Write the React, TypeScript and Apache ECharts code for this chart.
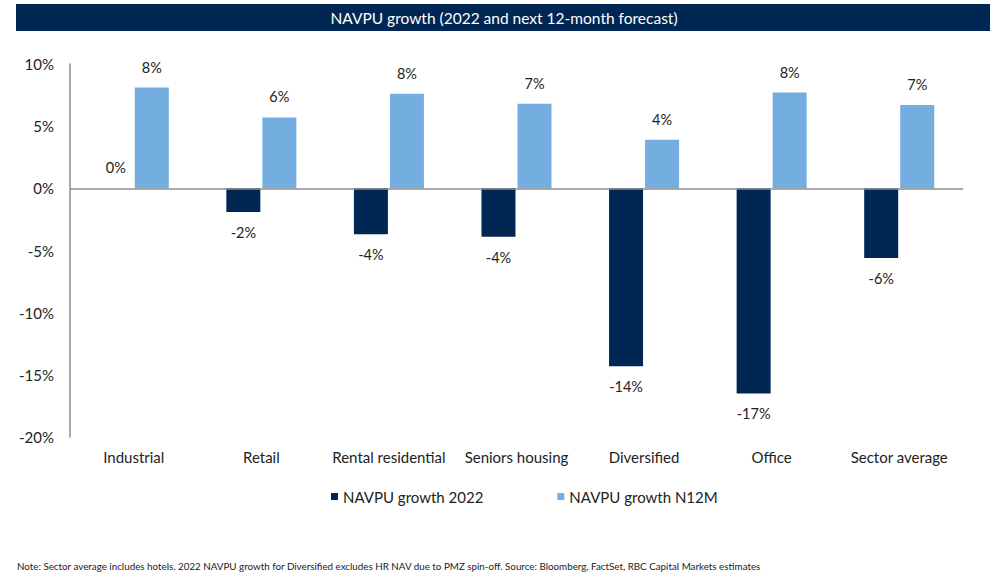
import React, { useEffect, useRef } from "react";
import * as echarts from "echarts";

const categories = [
  "Industrial",
  "Retail",
  "Rental residential",
  "Seniors housing",
  "Diversified",
  "Office",
  "Sector average",
];
const growth2022 = [0, -1.9, -3.7, -3.9, -14.3, -16.5, -5.6];
const growthN12M = [8.1, 5.7, 7.6, 6.8, 3.9, 7.7, 6.7];
const yTicks = { min: -20, max: 10, interval: 5 };
const seriesNames = ["NAVPU growth 2022", "NAVPU growth N12M"];
const titleText = "NAVPU growth (2022 and next 12-month forecast)";
const noteText =
  "Note: Sector average includes hotels. 2022 NAVPU growth for Diversified excludes HR NAV due to PMZ spin-off. Source: Bloomberg, FactSet, RBC Capital Markets estimates";

const DARK = "#002654";
const LIGHT = "#74AEE0";
const FONT = "Lato, 'Noto Sans', sans-serif";

function toItems(values: number[]) {
  return values.map((v) => ({
    value: v,
    label: { position: v < 0 ? "bottom" : "top" },
  }));
}

export default function App() {
  const ref = useRef<HTMLDivElement>(null);
  useEffect(() => {
    if (!ref.current) return;
    const chart = echarts.init(ref.current, null, { renderer: "svg" });
    const labelCfg = {
      show: true,
      distance: 13,
      fontSize: 14.5,
      color: "#222",
      fontFamily: FONT,
      formatter: (p: any) => `${Math.round(Math.abs(p.value)) * Math.sign(p.value) || 0}%`,
    };
    chart.setOption({
      animation: false,
      backgroundColor: "#ffffff",
      textStyle: { fontFamily: FONT },
      graphic: [
        {
          type: "rect",
          shape: { x: 16, y: 4, width: 974, height: 27 },
          style: { fill: DARK },
          silent: true,
        },
        {
          type: "text",
          x: 504,
          y: 17.5,
          style: {
            text: titleText,
            fill: "#ffffff",
            font: `15.5px ${FONT}`,
            textAlign: "center",
            textVerticalAlign: "middle",
          },
        },
        {
          type: "text",
          x: 17,
          y: 566,
          style: {
            text: noteText,
            fill: "#222",
            font: `9.8px ${FONT}`,
            textAlign: "left",
            textVerticalAlign: "middle",
          },
        },
      ],
      legend: {
        data: seriesNames,
        left: 326,
        top: 484,
        icon: "rect",
        itemWidth: 7,
        itemHeight: 7,
        itemGap: 74,
        textStyle: { fontSize: 15, color: "#222", fontFamily: FONT },
      },
      grid: { left: 70, right: 43, top: 64, bottom: 138, containLabel: false },
      xAxis: {
        type: "category",
        data: categories,
        axisLine: { show: false },
        axisTick: { show: false },
        axisLabel: { margin: 12, fontSize: 15, color: "#222", fontFamily: FONT, interval: 0 },
      },
      yAxis: {
        type: "value",
        min: yTicks.min,
        max: yTicks.max,
        interval: yTicks.interval,
        splitLine: { show: false },
        axisTick: { show: false },
        axisLine: { show: true, lineStyle: { color: "#8c8c8c", width: 1.5 } },
        axisLabel: {
          formatter: "{value}%",
          margin: 16,
          fontSize: 15,
          color: "#222",
          fontFamily: FONT,
        },
      },
      series: [
        {
          name: seriesNames[0],
          type: "bar",
          data: toItems(growth2022),
          barWidth: 34,
          barGap: "6%",
          itemStyle: { color: DARK },
          label: labelCfg,
          markLine: {
            silent: true,
            symbol: "none",
            label: { show: false },
            lineStyle: { color: "#8c8c8c", width: 1.5, type: "solid" },
            data: [{ yAxis: 0 }],
          },
        },
        {
          name: seriesNames[1],
          type: "bar",
          data: toItems(growthN12M),
          barWidth: 34,
          barGap: "6%",
          itemStyle: { color: LIGHT },
          label: labelCfg,
        },
      ],
    });
    return () => chart.dispose();
  }, []);
  return (
    <div
      ref={ref}
      style={{ position: "fixed", left: 0, top: 0, width: 1006, height: 575, background: "#fff" }}
    />
  );
}
